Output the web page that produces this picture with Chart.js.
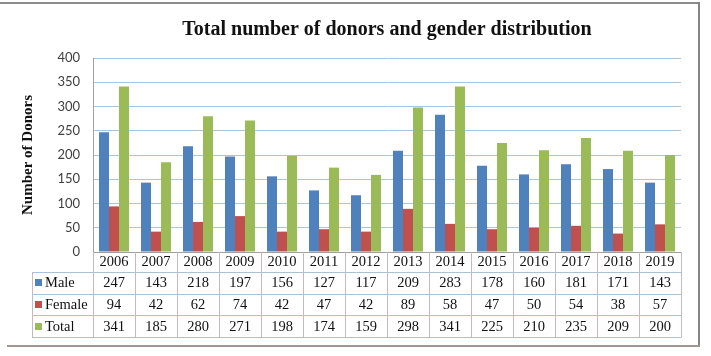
<!DOCTYPE html>
<html>
<head>
<meta charset="utf-8">
<script src="https://cdn.jsdelivr.net/npm/chart.js@4"></script>
<style>
html,body{margin:0;padding:0;background:#ffffff;}
#wrap{width:711px;height:356px;position:relative;}
</style>
</head>
<body>
<div id="wrap"><canvas id="c"></canvas></div>
<script>
const categories = ['2006','2007','2008','2009','2010','2011','2012','2013','2014','2015','2016','2017','2018','2019'];
const maleValues   = [247,143,218,197,156,127,117,209,283,178,160,181,171,143];
const femaleValues = [94,42,62,74,42,47,42,89,58,47,50,54,38,57];
const totalValues  = [341,185,280,271,198,174,159,298,341,225,210,235,209,200];
const seriesNames  = ['Male','Female','Total'];
const yTickMin = 0, yTickMax = 400, yTickStep = 50;

const colors = ['#4F81BD','#C0504D','#9BBB59'];
const serif = '"Liberation Serif", "Times New Roman", serif';

const tablePlugin = {
  id: 'dataTable',
  afterDraw(chart) {
    const ctx = chart.ctx, xs = chart.scales.x, area = chart.chartArea;
    const n = categories.length;
    const colW = (area.right - area.left) / n;
    const top = xs.bottom;
    const rowH = 21.7;
    const tableLeft = 32;
    const bottom = top + rowH * 3;
    ctx.save();
    ctx.lineWidth = 1;
    // horizontal table lines
    ctx.strokeStyle = '#a9c2d8';
    for (let r = 0; r <= 3; r++) {
      const y = Math.round(top + r * rowH) + 0.5;
      ctx.beginPath(); ctx.moveTo(tableLeft, y); ctx.lineTo(area.right, y); ctx.stroke();
    }
    // vertical table lines
    ctx.strokeStyle = '#c6b9bc';
    for (let i = 0; i <= n; i++) {
      const x = Math.round(area.left + i * colW) + 0.5;
      ctx.beginPath(); ctx.moveTo(x, area.bottom); ctx.lineTo(x, Math.round(bottom) + 0.5); ctx.stroke();
    }
    ctx.beginPath(); ctx.moveTo(tableLeft + 0.5, Math.round(top) + 0.5); ctx.lineTo(tableLeft + 0.5, Math.round(bottom) + 0.5); ctx.stroke();
    // values and legend keys
    ctx.font = '14.5px ' + serif;
    ctx.textBaseline = 'middle';
    chart.data.datasets.forEach((ds, r) => {
      const yc = top + (r + 0.5) * rowH;
      ctx.fillStyle = '#111111';
      ctx.textAlign = 'center';
      ds.data.forEach((v, i) => ctx.fillText(String(v), xs.getPixelForValue(i), yc + 0.5));
      ctx.fillStyle = ds.backgroundColor;
      ctx.fillRect(35, Math.round(yc - 3.5), 7, 7);
      ctx.fillStyle = '#111111';
      ctx.textAlign = 'left';
      ctx.fillText(ds.label, 45, yc + 0.5);
    });
    // outer frame
    ctx.lineWidth = 2;
    ctx.strokeStyle = '#8c8c8c';
    ctx.beginPath(); ctx.moveTo(0, 3); ctx.lineTo(700, 3); ctx.stroke();
    ctx.strokeStyle = '#858585';
    ctx.beginPath(); ctx.moveTo(699, 2); ctx.lineTo(699, 347); ctx.stroke();
    ctx.strokeStyle = '#a09692';
    ctx.beginPath(); ctx.moveTo(7, 346); ctx.lineTo(700, 346); ctx.stroke();
    ctx.restore();
  }
};

new Chart(document.getElementById('c'), {
  type: 'bar',
  data: {
    labels: categories,
    datasets: [
      { label: seriesNames[0], data: maleValues,   backgroundColor: colors[0] },
      { label: seriesNames[1], data: femaleValues, backgroundColor: colors[1] },
      { label: seriesNames[2], data: totalValues,  backgroundColor: colors[2] }
    ]
  },
  options: {
    responsive: true,
    maintainAspectRatio: false,
    animation: false,
    layout: { padding: { left: 0, right: 30, top: 0, bottom: 84 } },
    datasets: { bar: { categoryPercentage: 0.714, barPercentage: 1.0, borderWidth: 0 } },
    plugins: {
      legend: { display: false },
      tooltip: { enabled: false },
      title: {
        display: true,
        fullSize: false,
        text: 'Total number of donors and gender distribution',
        color: '#111111',
        font: { family: serif, size: 20, weight: 'bold' },
        padding: { top: 18, bottom: 16 }
      }
    },
    scales: {
      x: {
        grid: { display: false, drawTicks: false },
        border: { display: true, color: '#a0a0a0', width: 1 },
        ticks: { color: '#111111', font: { family: serif, size: 14.5 }, padding: 1, maxRotation: 0, autoSkip: false },
        afterFit: s => { s.height = 20; }
      },
      y: {
        min: yTickMin, max: yTickMax,
        ticks: { stepSize: yTickStep, color: '#404040', font: { family: 'Lato, "Open Sans", sans-serif', size: 13 }, padding: 13 },
        grid: { color: '#a9c5dd', lineWidth: 1, drawTicks: false },
        border: { display: true, color: '#a0a0a0', width: 1 },
        title: {
          display: true,
          text: 'Number of Donors',
          color: '#111111',
          font: { family: serif, size: 15, weight: 'bold' },
          padding: { top: 19, bottom: 0 }
        },
        afterFit: s => { s.width = 93; }
      }
    }
  },
  plugins: [tablePlugin]
});
</script>
</body>
</html>
